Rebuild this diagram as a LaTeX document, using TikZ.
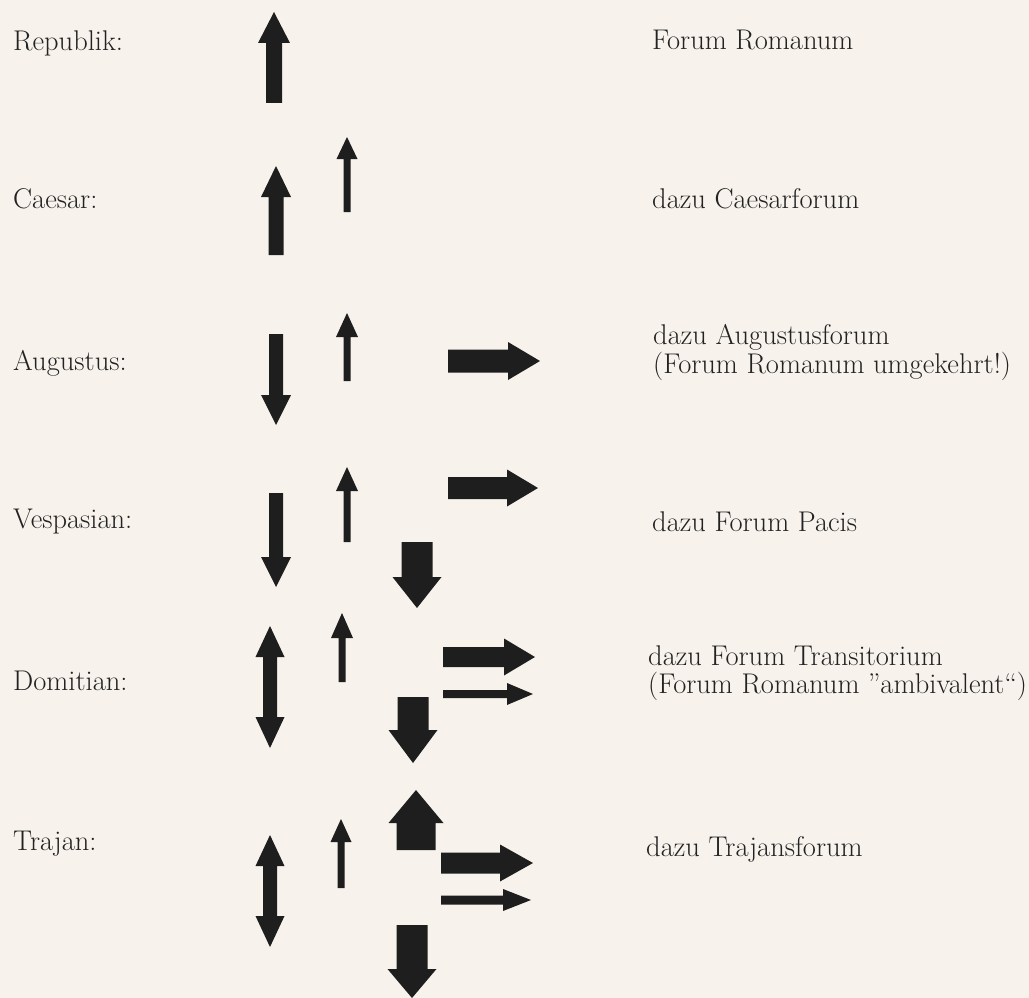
\documentclass[tikz,border=0pt]{standalone}
\usepackage{tikz}

\definecolor{paper}{HTML}{F7F3EC}
\definecolor{ink}{HTML}{222222}
\definecolor{arrowink}{HTML}{1E1E1E}

% block arrow: tail, angle, length, shaft, head, head length
\newcommand{\barrow}[6]{%
  \fill[arrowink, shift={#1}, rotate=#2]
    (0,-#4/2) -- (#3-#6,-#4/2) -- (#3-#6,-#5/2) -- (#3,0)
    -- (#3-#6,#5/2) -- (#3-#6,#4/2) -- (0,#4/2) -- cycle;}

% double block arrow, vertical: top tip, length, shaft, head, head length
\newcommand{\dblarrow}[5]{%
  \fill[arrowink, shift={#1}, rotate=-90]
    (0,0) -- (#5,-#4/2) -- (#5,-#3/2) -- (#2-#5,-#3/2) -- (#2-#5,-#4/2)
    -- (#2,0) -- (#2-#5,#4/2) -- (#2-#5,#3/2) -- (#5,#3/2) -- (#5,#4/2) -- cycle;}

\begin{document}
\begin{tikzpicture}[x=1pt, y=-1pt,
                    lbl/.style={anchor=base west, inner sep=0pt, text=ink,
                                font=\fontsize{28.5}{31}\selectfont}]

\fill[paper] (0,0) rectangle (1029,998);
\useasboundingbox (0,0) rectangle (1029,998);

% emperors
\node[lbl] (republik)  at (13,51)  {Republik:};
\node[lbl] (caesar)    at (13,208) {Caesar:};
\node[lbl] (augustus)  at (13,370) {Augustus:};
\node[lbl] (vespasian) at (13,528) {Vespasian:};
\node[lbl] (domitian)  at (13,690) {Domitian:};
\node[lbl] (trajan)    at (13,850) {Trajan:};

% fora
\node[lbl] (romanum)     at (652,50)  {Forum Romanum};
\node[lbl] (caesarforum) at (652,208) {dazu Caesarforum};
\node[lbl] (augforum)    at (653,344) {dazu Augustusforum};
\node[lbl] (augnote)     at (653,373) {(Forum Romanum umgekehrt!)};
\node[lbl] (pacis)       at (652,531) {dazu Forum Pacis};
\node[lbl] (transit)     at (648,665) {dazu Forum Transitorium};
\node[lbl] (transnote)   at (648,693) {(Forum Romanum ”ambivalent“)};
\node[lbl] (trajforum)   at (646,856) {dazu Trajansforum};

% Republik
\barrow{(274,103)}{90}{91}{16}{32}{31}
% Caesar
\barrow{(347,212)}{90}{75}{7}{21}{22}
\barrow{(276,255)}{90}{89}{15}{30}{31}
% Augustus
\barrow{(347,381)}{90}{68}{7}{22}{24}
\barrow{(276,334)}{-90}{91}{14}{30}{30}
\barrow{(448,361)}{0}{92}{23}{38}{32}
% Vespasian
\barrow{(347,542)}{90}{75}{7}{22}{24}
\barrow{(448,488)}{0}{90}{22}{37}{31}
\barrow{(276,493)}{-90}{94}{14}{30}{30}
\barrow{(417,542)}{-90}{66}{31}{49}{31}
% Domitian
\barrow{(342,682)}{90}{69}{7}{22}{25}
\dblarrow{(270,626)}{122}{14}{29}{31}
\barrow{(443,657)}{0}{92}{20}{37}{31}
\barrow{(443,694)}{0}{90}{8}{22}{26}
\barrow{(413,697)}{-90}{66}{31}{49}{33}
% Trajan
\barrow{(416,850)}{90}{60}{39}{55}{33}
\barrow{(341,888)}{90}{69}{7}{21}{23}
\dblarrow{(270,835)}{112}{14}{29}{31}
\barrow{(441,863)}{0}{92}{21}{37}{33}
\barrow{(441,900)}{0}{90}{9}{22}{28}
\barrow{(412,925)}{-90}{73}{31}{49}{29}
\end{tikzpicture}
\end{document}
